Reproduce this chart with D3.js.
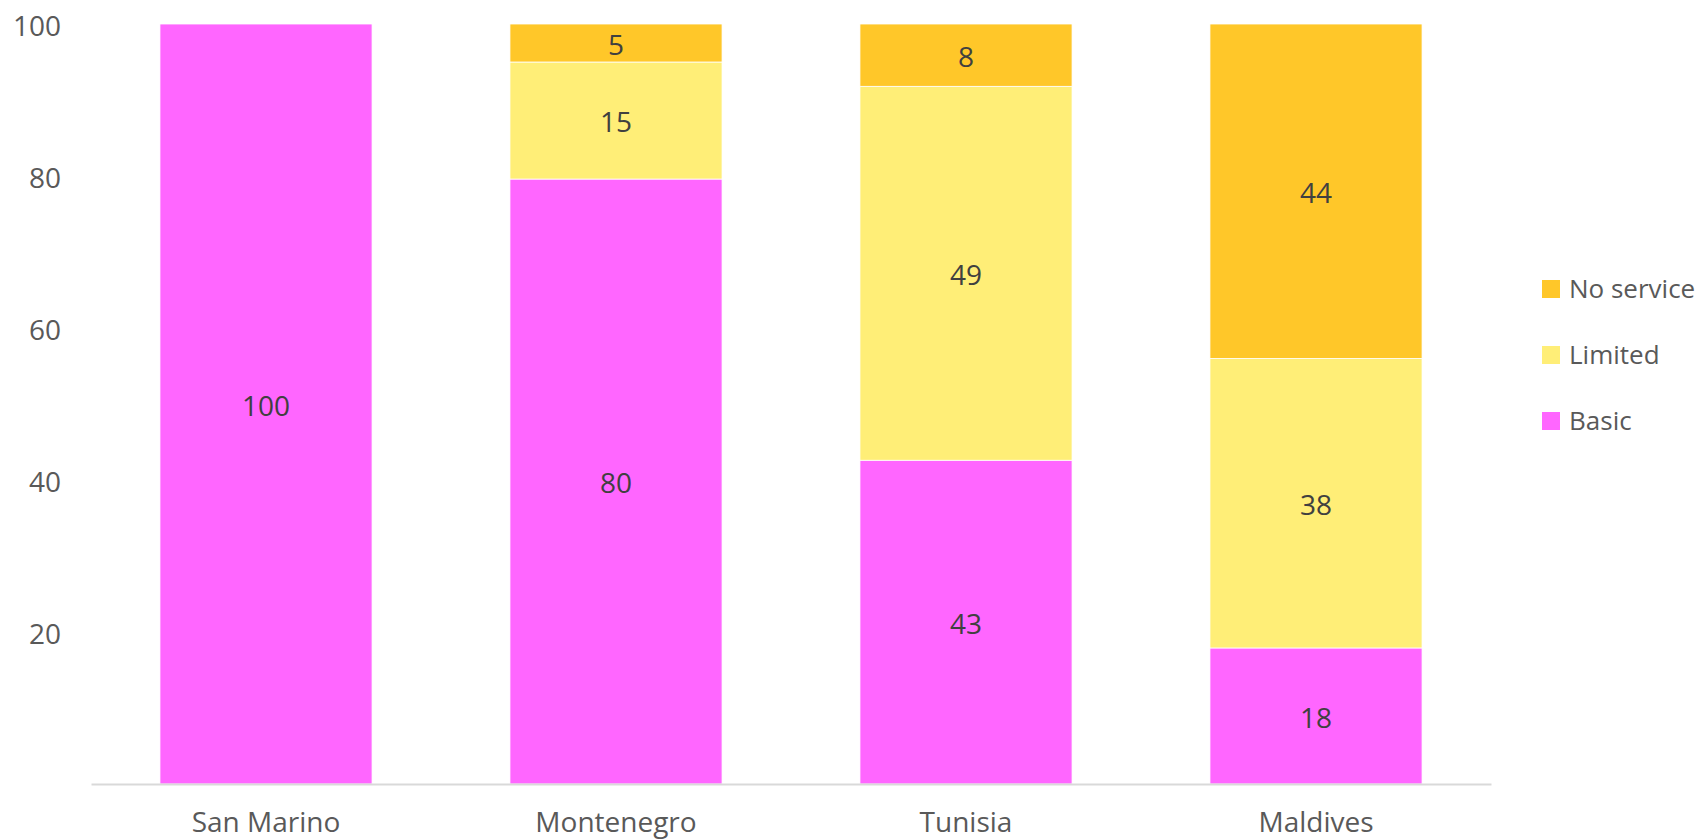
<!DOCTYPE html>
<html>
<head>
<meta charset="utf-8">
<script src="https://cdn.jsdelivr.net/npm/d3@7"></script>
<style>
  html, body { margin: 0; padding: 0; background: #fff; }
  svg { display: block; font-family: "Open Sans", sans-serif; }
</style>
</head>
<body>
<svg id="chart" width="1706" height="840"></svg>
<script>
const categories = ["San Marino", "Montenegro", "Tunisia", "Maldives"];
const seriesNames = ["Basic", "Limited", "No service"];
const basic = [100, 79.6, 42.6, 17.9];
const limited = [0, 15.4, 49.2, 38.1];
const noService = [0, 5.0, 8.2, 44.0];
const yTicks = [20, 40, 60, 80, 100];
const colors = ["#FF66FF", "#FFEE77", "#FFC729"];

const svg = d3.select("#chart");
const margin = { left: 91, right: 1491, top: 24, bottom: 784 };

const x = d3.scaleBand().domain(categories).range([margin.left, margin.right]).paddingInner(0.394).paddingOuter(0.197);
const y = d3.scaleLinear().domain([0, 100]).range([margin.bottom, margin.top]);

const rows = categories.map((c, i) => ({ cat: c, "Basic": basic[i], "Limited": limited[i], "No service": noService[i] }));
const stack = d3.stack().keys(seriesNames)(rows);

// y axis labels
const yAxis = d3.axisLeft(y).tickValues(yTicks).tickSize(0).tickPadding(0);
const gy = svg.append("g").attr("transform", "translate(61,0)").call(yAxis);
gy.select(".domain").remove();
gy.selectAll("text").attr("fill", "#595959").attr("dy", "0.4em").style("font-size", "28px").style("font-family", "'Open Sans', sans-serif");

// bars
const layers = svg.append("g").selectAll("g").data(stack).join("g").attr("fill", (d, i) => colors[i]);
layers.selectAll("rect").data(d => d.filter(p => p[1] - p[0] > 0)).join("rect")
  .attr("x", d => x(d.data.cat))
  .attr("width", x.bandwidth())
  .attr("y", d => y(d[1]))
  .attr("height", d => y(d[0]) - y(d[1]))
  .attr("stroke", "#ffffff").attr("stroke-width", 0.8);

// data labels
layers.selectAll("text").data(d => d.filter(p => p[1] - p[0] > 0)).join("text")
  .attr("x", d => x(d.data.cat) + x.bandwidth() / 2)
  .attr("y", d => (y(d[0]) + y(d[1])) / 2)
  .attr("dy", "0.42em")
  .attr("text-anchor", "middle")
  .attr("fill", "#404040")
  .style("font-size", "28px")
  .text(d => Math.round(d[1] - d[0]));

// x axis
const xAxis = d3.axisBottom(x).tickSize(0).tickPadding(0);
const gx = svg.append("g").attr("transform", `translate(0,${margin.bottom})`).call(xAxis);
gx.select(".domain").attr("stroke", "#D9D9D9").attr("stroke-width", 2);
gx.selectAll("text").attr("fill", "#595959").attr("dy", null).attr("y", 48)
  .style("font-size", "28px").style("font-family", "'Open Sans', sans-serif");

// legend
const legendItems = seriesNames.slice().reverse();
const legendY = d3.scalePoint().domain(legendItems).range([289, 421]);
const lg = svg.append("g").selectAll("g").data(legendItems).join("g")
  .attr("transform", d => `translate(1542,${legendY(d)})`);
lg.append("rect").attr("x", 0).attr("y", -9).attr("width", 18).attr("height", 18)
  .attr("fill", d => colors[seriesNames.indexOf(d)]);
lg.append("text").attr("x", 27).attr("dy", "0.35em").attr("fill", "#595959")
  .style("font-size", "26px").text(d => d);
</script>
</body>
</html>
